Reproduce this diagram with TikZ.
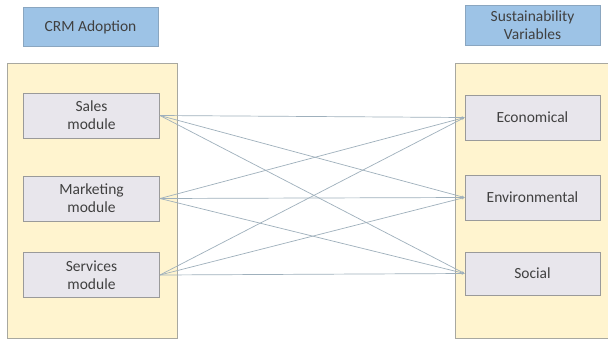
\documentclass[tikz,border=0pt]{standalone}
\usepackage{fontspec}
\setmainfont{Carlito}
\usetikzlibrary{arrows.meta}
\definecolor{panelfill}{HTML}{FFF4CF}
\definecolor{panelline}{HTML}{A8A8A0}
\definecolor{boxfill}{HTML}{E8E6EC}
\definecolor{boxline}{HTML}{9A9A9A}
\definecolor{headfill}{HTML}{9DC3E6}
\definecolor{headline}{HTML}{8AA6C0}
\definecolor{linkcol}{HTML}{9FB0BC}
\definecolor{txt}{HTML}{404040}
\begin{document}
\begin{tikzpicture}[x=1pt,y=-1pt,
  panel/.style={draw=panelline,fill=panelfill,line width=0.8pt},
  modbox/.style={draw=boxline,fill=boxfill,line width=0.8pt,minimum width=136pt,minimum height=45pt,align=center,text=txt,font=\fontsize{15.5}{18}\selectfont,inner sep=0pt},
  headbox/.style={draw=headline,fill=headfill,line width=0.8pt,minimum width=135pt,minimum height=39pt,align=center,text=txt,font=\fontsize{15.5}{18}\selectfont,inner sep=0pt},
  link/.style={draw=linkcol,line width=0.7pt,-{Stealth[length=3pt,width=2.5pt]}}]
\useasboundingbox (0,0) rectangle (608,341);
\fill[white] (0,0) rectangle (608,341);
\draw[panel] (7,63) rectangle (177,338);
\draw[panel] (455,63) rectangle (612,338);
\node[headbox] (crm) at (90.5,27) {CRM Adoption};
\node[headbox,minimum height=40pt] (sus) at (532.5,25) {Sustainability\\Variables};
\node[modbox] (sales) at (91.5,115.5) {Sales\\module};
\node[modbox] (mkt) at (91.5,198.5) {Marketing\\module};
\node[modbox] (serv) at (91.5,275) {Services\\module};
\node[modbox,minimum width=135pt] (eco) at (532.5,117.5) {Economical};
\node[modbox,minimum width=135pt] (env) at (532.5,197.5) {Environmental};
\node[modbox,minimum width=135pt,minimum height=43pt] (soc) at (532.5,273.5) {Social};
\foreach \s in {sales,mkt,serv}{
  \foreach \t in {eco,env,soc}{
    \draw[link] (\s.east) -- (\t.west);
  }
}
\end{tikzpicture}
\end{document}
